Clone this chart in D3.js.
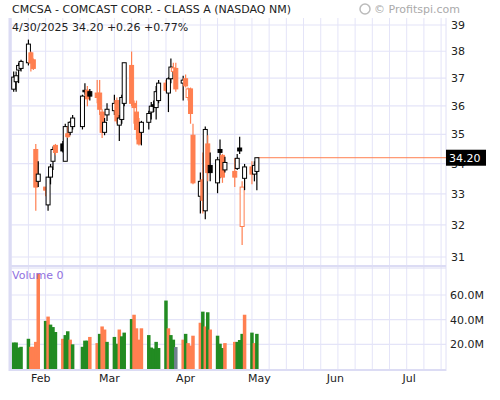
<!DOCTYPE html>
<html>
<head>
<meta charset="utf-8">
<script src="https://cdn.jsdelivr.net/npm/d3@7"></script>
<style>
  body { margin: 0; background: #fff; }
  text { font-family: Verdana, "DejaVu Sans", sans-serif; }
</style>
</head>
<body>
<div id="chart"></div>
<script>
const dates = ["2025-01-21","2025-01-22","2025-01-23","2025-01-24","2025-01-27","2025-01-28","2025-01-29","2025-01-30","2025-01-31",
  "2025-02-03","2025-02-04","2025-02-05","2025-02-06","2025-02-07","2025-02-10","2025-02-11","2025-02-12","2025-02-13","2025-02-14",
  "2025-02-18","2025-02-19","2025-02-20","2025-02-21","2025-02-24","2025-02-25","2025-02-26","2025-02-27","2025-02-28",
  "2025-03-03","2025-03-04","2025-03-05","2025-03-06","2025-03-07","2025-03-10","2025-03-11","2025-03-12","2025-03-13","2025-03-14",
  "2025-03-17","2025-03-18","2025-03-19","2025-03-20","2025-03-21","2025-03-24","2025-03-25","2025-03-26","2025-03-27","2025-03-28","2025-03-31",
  "2025-04-01","2025-04-02","2025-04-03","2025-04-04","2025-04-07","2025-04-08","2025-04-09","2025-04-10","2025-04-11",
  "2025-04-14","2025-04-15","2025-04-16","2025-04-17","2025-04-21","2025-04-22","2025-04-23","2025-04-24","2025-04-25",
  "2025-04-28","2025-04-29","2025-04-30"];
const opens  = [36.6,36.87,37.3,37.36,37.57,37.94,37.68,34.48,33.41, 33.22,32.64,33.55,34.08,34.62,34.67,34.08,35.02,35.07,35.27,
  35.27,36.56,36.56,36.51,36.46,36.46,35.78,35.07,35.68, 35.83,36.19,35.32,35.52,36.09,37.47,36.09,35.78,35.17,35.07,
  35.42,35.78,36.04,35.94,36.19,36.82,36.46,36.98,37.25,37.36,36.82, 36.98,36.3,36.61,34.97,32.92,33.46,32.45,34.67,33.94,
  33.36,34.48,34.28,33.79,33.74,33.84,34.53,31.95,33.51, 33.89,33.65,33.74];
const highs  = [37.25,37.25,37.57,37.68,38.44,37.99,37.73,34.67,34.08, 33.22,33.55,33.99,34.58,34.67,34.77,35.37,35.27,35.47,35.68,
  36.4,36.82,36.72,36.61,36.93,36.93,35.88,35.57,36.09, 36.4,36.3,35.68,36.4,37.57,37.99,36.19,36.19,35.57,35.47,
  35.83,36.14,36.19,36.72,36.93,36.93,37.04,37.73,37.57,37.57,37.09, 37.14,36.66,36.66,35.37,33.7,34.38,35.27,34.97,34.38,
  34.23,34.82,34.33,34.23,34.18,34.33,34.92,33.41,33.99, 34.08,34.08,34.18];
const lows   = [36.51,36.51,36.82,37.25,37.47,37.25,37.3,32.45,33.22, 32.92,32.45,33.31,33.79,34.28,34.38,34.08,34.87,34.97,35.17,
  35.17,36.4,35.99,36.19,36.09,35.68,34.87,34.97,35.47, 35.68,35.37,34.77,35.37,35.99,35.99,35.37,34.82,34.62,34.62,
  35.17,35.52,35.78,35.52,36.09,36.51,35.78,36.82,37.14,36.51,36.19, 36.66,36.19,35.37,33.31,32.36,32.36,32.18,33.41,33.41,
  33.02,33.51,33.36,33.7,33.22,33.79,34.33,31.37,33.12, 33.31,33.41,33.12];
const closes = [37.04,37.09,37.47,37.62,38.27,37.57,37.36,33.22,33.65, 33.12,33.55,33.89,34.48,34.38,34.43,35.27,34.92,35.42,35.57,
  36.35,36.51,36.25,36.35,36.3,35.88,35.07,35.42,35.88, 36.09,35.47,35.57,36.3,37.57,36.09,35.94,35.17,34.67,35.42,
  35.73,35.99,35.99,36.51,36.82,36.56,36.98,37.41,37.38,36.61,36.93, 36.72,36.61,35.73,33.36,33.41,32.79,35.17,33.7,33.7,
  34.13,34.38,33.55,34.04,33.55,34.18,34.43,33.22,33.89, 33.65,33.94,34.2];
// volume in millions, and bar colour code: g = up, o = down, n = unchanged
const volumes = [21.5,21.5,17.4,18,24.5,18,18,22,77.5,39, 42.5,36,34,30,24.5,27.5,30.6,23.8,20,18, 23,23,26,21,28.5,34.5,32,22,26,20.5,
  32,26.5,29.5,40.5,44,33,23.8,33,27.5,17.4, 16.6,22,17,55.5,33,27.5,23.8,17.8,23.8,28.5, 21,19,27,37.5,46.5,34.5,46,32,27,20.5,
  17,21,22,22,23.5,28.5,44,29.5,21,28.5];
const volColors = ["g","g","g","g","g","o","o","o","o","g", "o","g","g","g","o","g","g","o","g","g", "g","g","o","o","g","o","o","g","g","g",
  "o","g","g","g","o","o","o","o","g","g", "g","g","g","g","o","g","g","n","o","g", "o","o","o","o","g","o","g","o","g","g",
  "g","o","o","g","g","g","o","g","o","g"];
const priceTicks = [31,32,33,34,35,36,37,38,39];
const volTicks = [20,40,60];
const monthLabels = [["2025-02-01","Feb"],["2025-03-01","Mar"],["2025-04-01","Apr"],["2025-05-01","May"],["2025-06-01","Jun"],["2025-07-01","Jul"]];

const W = 500, H = 400;
const pLeft = 10, pRight = 446, pTop = 18, priceBottom = 266, volTop = 268, volBottom = 369;
const parse = d3.utcParse("%Y-%m-%d");
const data = dates.map((d, i) => ({ date: parse(d), o: opens[i], h: highs[i], l: lows[i], c: closes[i],
  v: volumes[i], vc: volColors[i], prev: i > 0 ? closes[i - 1] : opens[i] }));

const x = d3.scaleUtc([new Date(Date.UTC(2025, 0, 19, 12)), new Date(Date.UTC(2025, 6, 16))], [pLeft, pRight]);
const y = d3.scaleLog([31, 39], [257, 25]);
const yv = d3.scaleLinear([0, 60], [volBottom, 295]);

const svg = d3.select("#chart").append("svg").attr("width", W).attr("height", H);
const grid = "#e4e4f8";

// weekly vertical grid
const mondays = d3.utcMonday.range(new Date(Date.UTC(2025, 0, 20)), new Date(Date.UTC(2025, 6, 16)));
svg.append("g").selectAll("line").data(mondays).join("line")
  .attr("x1", d => x(d)).attr("x2", d => x(d)).attr("y1", pTop).attr("y2", volBottom + 1)
  .attr("stroke", grid).attr("stroke-width", 1);

svg.append("g").selectAll("line").data(priceTicks).join("line")
  .attr("x1", pLeft).attr("x2", pRight).attr("y1", d => y(d)).attr("y2", d => y(d))
  .attr("stroke", grid).attr("stroke-width", 1.2);
svg.append("g").selectAll("line").data(volTicks).join("line")
  .attr("x1", pLeft).attr("x2", pRight).attr("y1", d => yv(d)).attr("y2", d => yv(d))
  .attr("stroke", grid).attr("stroke-width", 1.2);

// frame
svg.append("line").attr("x1", pLeft).attr("x2", pLeft).attr("y1", pTop).attr("y2", volBottom + 2).attr("stroke", "#dcdcf4").attr("stroke-width", 3);
svg.append("line").attr("x1", pRight).attr("x2", pRight).attr("y1", pTop).attr("y2", volBottom + 2).attr("stroke", "#e0e0f6").attr("stroke-width", 1);
svg.append("line").attr("x1", pLeft).attr("x2", pRight).attr("y1", priceBottom).attr("y2", priceBottom).attr("stroke", "#dcdcf4").attr("stroke-width", 2);
svg.append("line").attr("x1", pLeft).attr("x2", pRight).attr("y1", volTop).attr("y2", volTop).attr("stroke", "#dcdcf4").attr("stroke-width", 1);
svg.append("line").attr("x1", pLeft).attr("x2", pRight).attr("y1", volBottom + 1).attr("y2", volBottom + 1).attr("stroke", "#dcdcf4").attr("stroke-width", 2);

// volume bars
const volFill = { g: "#228b22", o: "#ff7f50", n: "#708090" };
svg.append("g").selectAll("rect").data(data).join("rect")
  .attr("x", d => x(d.date) - 1.75).attr("width", 3.5)
  .attr("y", d => yv(d.v)).attr("height", d => yv(0) - yv(d.v))
  .attr("fill", d => volFill[d.vc]);

// last price line
const last = data[data.length - 1];
svg.append("line").attr("x1", x(last.date)).attr("x2", pRight).attr("y1", y(last.c)).attr("y2", y(last.c))
  .attr("stroke", "#ff7f50").attr("stroke-width", 1);

// candles
const candles = svg.append("g").selectAll("g").data(data).join("g");
const col = d => d.c >= d.prev ? "#000" : "#ff7f50";
candles.append("line")
  .attr("x1", d => x(d.date)).attr("x2", d => x(d.date))
  .attr("y1", d => y(d.h)).attr("y2", d => y(d.l))
  .attr("stroke", col).attr("stroke-width", 1.2);
candles.append("rect")
  .attr("x", d => x(d.date) - 2).attr("width", 4)
  .attr("y", d => y(Math.max(d.o, d.c)))
  .attr("height", d => Math.max(1.5, Math.abs(y(d.o) - y(d.c))))
  .attr("fill", d => d.c < d.o ? col(d) : "#fff")
  .attr("stroke", col).attr("stroke-width", 1);

// right axes
svg.append("g").selectAll("text").data(priceTicks).join("text")
  .attr("x", 451).attr("y", d => y(d) + 4).attr("font-size", 11).attr("fill", "#222").text(d => d);
svg.append("g").selectAll("text").data(volTicks).join("text")
  .attr("x", 450).attr("y", d => yv(d) + 4).attr("font-size", 11).attr("fill", "#222").text(d => d + ".0M");

// last price tag
svg.append("rect").attr("x", 446).attr("y", y(last.c) - 8).attr("width", 40).attr("height", 16).attr("fill", "#000");
svg.append("text").attr("x", 449).attr("y", y(last.c) + 4).attr("font-size", 11).attr("fill", "#fff").text(last.c.toFixed(2));

// month labels
svg.append("g").selectAll("text").data(monthLabels).join("text")
  .attr("x", d => x(parse(d[0]))).attr("y", 382).attr("text-anchor", "middle")
  .attr("font-size", 11).attr("fill", "#222").text(d => d[1]);

// titles
svg.append("text").attr("x", 12).attr("y", 13).attr("font-size", 11).attr("fill", "#222")
  .text("CMCSA - COMCAST CORP. - CLASS A (NASDAQ NM)");
svg.append("text").attr("x", 12).attr("y", 31).attr("font-size", 11).attr("fill", "#222")
  .text("4/30/2025  34.20 +0.26 +0.77%");
svg.append("text").attr("x", 12).attr("y", 279).attr("font-size", 11).attr("fill", "#9070e0")
  .text("Volume  0");
svg.append("circle").attr("cx", 365).attr("cy", 9).attr("r", 5).attr("fill", "none").attr("stroke", "#bbb").attr("stroke-width", 1.5);
svg.append("text").attr("x", 374).attr("y", 13).attr("font-size", 11).attr("fill", "#aaa").text("© Profitspi.com");
</script>
</body>
</html>
